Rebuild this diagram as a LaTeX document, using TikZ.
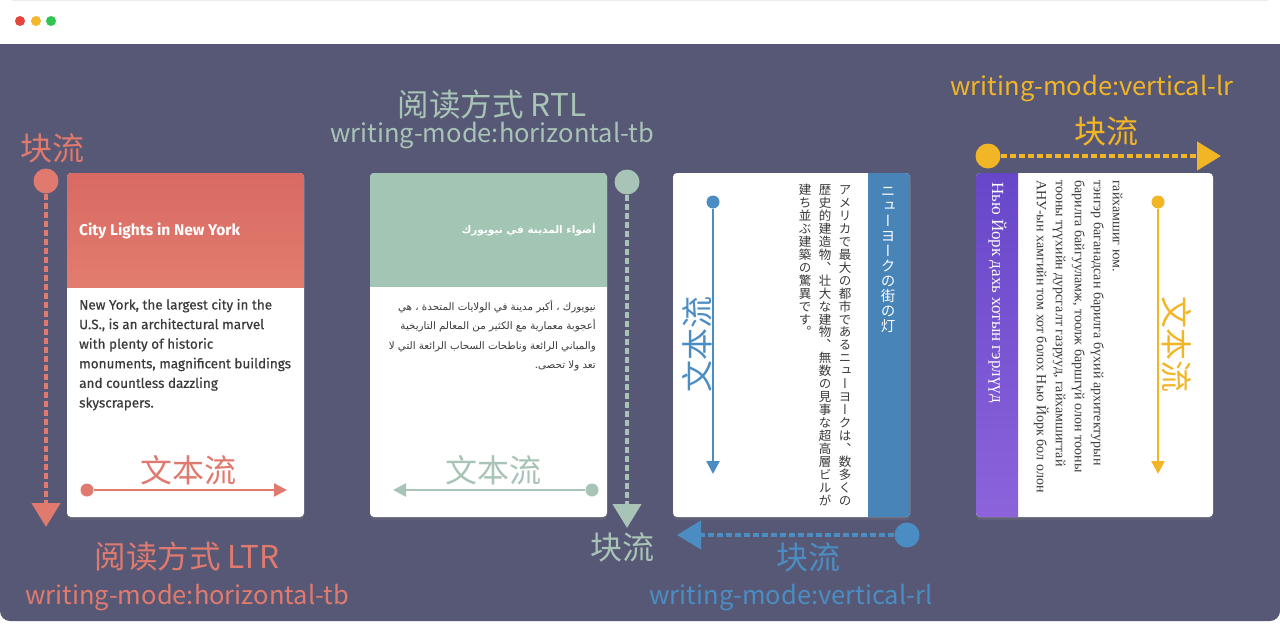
\documentclass[tikz,border=0pt]{standalone}
\usepackage{fontspec}
\usetikzlibrary{arrows.meta,shadows}
\setmainfont{Fira Sans}
\newfontfamily\medfont[FakeBold=0.5]{Fira Sans}
\newfontfamily\cjk{Noto Sans CJK SC}
\newfontfamily\jpv[RawFeature=+vert]{Noto Sans CJK JP}
\newfontfamily\arabicfont[Script=Arabic]{DejaVu Sans}
\newfontfamily\mnfont{Liberation Serif}
\TeXXeTstate=1
\definecolor{bg}{HTML}{575875}
\definecolor{cred}{HTML}{E07A6E}
\definecolor{cgreen}{HTML}{A8C4B6}
\definecolor{cblue}{HTML}{4B8DC3}
\definecolor{camber}{HTML}{F2B526}
\definecolor{hredA}{HTML}{D86963}
\definecolor{hredB}{HTML}{E27D6E}
\definecolor{hgreen}{HTML}{A3C5B3}
\definecolor{hblue}{HTML}{4884B8}
\definecolor{hpurA}{HTML}{6747C9}
\definecolor{hpurB}{HTML}{8C63DB}
\definecolor{txt}{HTML}{3A3A3A}
\definecolor{dotr}{HTML}{E5453A}
\definecolor{doty}{HTML}{F5B72B}
\definecolor{dotg}{HTML}{2EC552}
\ExplSyntaxOn
\NewDocumentCommand\vstack{mm}
 {
  \vbox
   {
    \offinterlineskip
    \tl_map_inline:nn {#2}
     {
      \kern \dimexpr 0.88em + (#1 - 1em)/2 \relax
      \hbox_to_wd:nn {1em} {\hss \smash{##1} \hss}
      \kern \dimexpr (#1 - 1em)/2 + 0.12em \relax
     }
   }
 }
\ExplSyntaxOff
\tikzset{
  card/.style={fill=white, rounded corners=4pt, minimum width=237pt, minimum height=344pt, inner sep=0pt,
    drop shadow={opacity=0.22, shadow xshift=0pt, shadow yshift=-3pt}},
  bdot/.style={circle, fill=#1, minimum size=25pt, inner sep=0pt},
  tdot/.style={circle, fill=#1, minimum size=13pt, inner sep=0pt},
  bflow/.style={draw=#1, line width=4.5pt, dash pattern=on 6pt off 3pt, -{Triangle[length=24pt,width=28pt]}},
  tflow/.style={draw=#1, line width=2.5pt, -{Triangle[length=13pt,width=13pt]}},
  big/.style={font=\cjk\fontsize{32}{34}\selectfont, inner sep=0pt},
  mid/.style={font=\cjk\fontsize{31.5}{33}\selectfont, inner sep=0pt},
  wm/.style={font=\cjk\fontsize{25.5}{28}\selectfont, inner sep=0pt},
  enbody/.style={anchor=base west, text=txt, font=\medfont\fontsize{13.5}{16}\selectfont, inner sep=0pt},
  arbody/.style={anchor=base east, text=txt, font=\arabicfont\fontsize{10.3}{13}\selectfont, inner sep=0pt},
  jpbody/.style={anchor=north, text=txt, font=\jpv\fontsize{12.5}{12.5}\selectfont, inner sep=0pt},
  mnbody/.style={rotate=-90, anchor=west, text=txt, font=\mnfont\fontsize{14}{16}\selectfont, inner sep=0pt, text height=9.5pt, text depth=3pt},
}
\begin{document}
\begin{tikzpicture}[x=1pt,y=-1pt]
\useasboundingbox (0,0) rectangle (1280,627);
\fill[white] (0,0) rectangle (1280,627);
\fill[bg, rounded corners=10pt] (0,20) rectangle (1280,621);
\fill[white] (0,0) rectangle (1280,44);
\draw[black!8, line width=1pt] (12,0.5) -- (1268,0.5);
\fill[dotr] (20,21) circle (5);
\fill[doty] (36,21) circle (5);
\fill[dotg] (51,21) circle (5);

% cards
\node[card] (c1) at (185.5,345) {};
\node[card] (c2) at (488.5,345) {};
\node[card] (c3) at (791.5,345) {};
\node[card] (c4) at (1094.5,345) {};
\begin{scope}
\clip[rounded corners=4pt] (67,173) rectangle (304,517);
\shade[top color=hredA, bottom color=hredB] (67,173) rectangle (304,287);
\end{scope}
\begin{scope}
\clip[rounded corners=4pt] (370,173) rectangle (607,517);
\fill[hgreen] (370,173) rectangle (607,287);
\end{scope}
\begin{scope}
\clip[rounded corners=4pt] (673,173) rectangle (910,517);
\fill[hblue] (868,173) rectangle (910,517);
\end{scope}
\begin{scope}
\clip[rounded corners=4pt] (976,173) rectangle (1213,517);
\shade[top color=hpurA, bottom color=hpurB] (976,173) rectangle (1018,517);
\end{scope}

% card 1 text
\node[anchor=base west, text=white, font=\bfseries\fontsize{15.5}{18}\selectfont, inner sep=0pt] (t1) at (79,235) {City Lights in New York};
\node[enbody] (e1) at (79,309.5) {New York, the largest city in the};
\node[enbody] (e2) at (79,329.1) {U.S., is an architectural marvel};
\node[enbody] (e3) at (79,348.7) {with plenty of historic};
\node[enbody] (e4) at (79,368.3) {monuments, magnificent buildings};
\node[enbody] (e5) at (79,387.9) {and countless dazzling};
\node[enbody] (e6) at (79,407.5) {skyscrapers.};

% card 2 text
\node[anchor=base east, text=white, font=\arabicfont\bfseries\fontsize{10.5}{13}\selectfont, inner sep=0pt] (t2) at (596,233) {\beginR أضواء المدينة في نيويورك\endR};
\node[arbody] (a1) at (596,310) {\beginR نيويورك ، أكبر مدينة في الولايات المتحدة ، هي\endR};
\node[arbody] (a2) at (596,329.5) {\beginR أعجوبة معمارية مع الكثير من المعالم التاريخية\endR};
\node[arbody] (a3) at (596,349) {\beginR والمباني الرائعة وناطحات السحاب الرائعة التي لا\endR};
\node[arbody] (a4) at (596,368.5) {\beginR تعد ولا تحصى.\endR};

% card 3 text
\node[anchor=north, text=white, font=\jpv\fontsize{14.5}{14.5}\selectfont, inner sep=0pt] (t3) at (888,183) {\vstack{15pt}{ニューヨークの街の灯}};
\node[jpbody] (j1) at (845,183) {\vstack{12.96pt}{アメリカで最大の都市であるニューヨークは、数多くの}};
\node[jpbody] (j2) at (825,183) {\vstack{12.96pt}{歴史的建造物、壮大な建物、無数の見事な超高層ビルが}};
\node[jpbody] (j3) at (805,183) {\vstack{12.96pt}{建ち並ぶ建築の驚異です。}};

% card 4 text
\node[rotate=-90, anchor=west, text=white, font=\mnfont\fontsize{17}{19}\selectfont, inner sep=0pt, text height=12pt, text depth=4pt] (t4) at (996,182) {Нью Йорк дахь хотын гэрлүүд};
\node[mnbody] (m1) at (1040,180) {АНУ-ын хамгийн том хот болох Нью Йорк бол олон};
\node[mnbody] (m2) at (1059,180) {тооны түүхийн дурсгалт газрууд, гайхамшигтай};
\node[mnbody] (m3) at (1078,180) {барилга байгууламж, тоолж баршгүй олон тооны};
\node[mnbody] (m4) at (1097,180) {тэнгэр баганадсан барилга бүхий архитектурын};
\node[mnbody] (m5) at (1116,180) {гайхамшиг юм.};

% block flow arrows
\node[bdot=cred] (b1) at (46,181) {};
\coordinate (b1e) at (46,527);
\draw[bflow=cred] (b1) -- (b1e);
\node[bdot=cgreen] (b2) at (627,182) {};
\coordinate (b2e) at (627,528);
\draw[bflow=cgreen] (b2) -- (b2e);
\node[bdot=cblue] (b3) at (907,535) {};
\coordinate (b3e) at (677,535);
\draw[bflow=cblue] (b3) -- (b3e);
\node[bdot=camber] (b4) at (988,156) {};
\coordinate (b4e) at (1221,156);
\draw[bflow=camber] (b4) -- (b4e);

% text flow arrows
\node[tdot=cred] (d1) at (87,490) {};
\coordinate (d1e) at (287,490);
\draw[tflow=cred] (d1) -- (d1e);
\node[tdot=cgreen] (d2) at (592,490) {};
\coordinate (d2e) at (393,490);
\draw[tflow=cgreen] (d2) -- (d2e);
\node[tdot=cblue] (d3) at (713,202) {};
\coordinate (d3e) at (713,474);
\draw[tflow=cblue] (d3) -- (d3e);
\node[tdot=camber] (d4) at (1158,202) {};
\coordinate (d4e) at (1158,474);
\draw[tflow=camber] (d4) -- (d4e);

% labels
\node[big, text=cred] (l1) at (52,148) {块流};
\node[big, text=cred] (f1) at (188,470) {文本流};
\node[mid, text=cred] (r1) at (187,557) {阅读方式 LTR};
\node[wm, text=cred] (w1) at (187,598) {writing-mode:horizontal-tb};

\node[mid, text=cgreen] (r2) at (492,105) {阅读方式 RTL};
\node[wm, text=cgreen] (w2) at (492,136) {writing-mode:horizontal-tb};
\node[big, text=cgreen] (l2) at (622,547) {块流};
\node[big, text=cgreen] (f2) at (493,470) {文本流};

\node[big, text=cblue] (l3) at (808,557) {块流};
\node[wm, text=cblue] (w3) at (791,598) {writing-mode:vertical-rl};
\node[big, text=cblue, rotate=90] (f3) at (697,344) {文本流};

\node[wm, text=camber] (w4) at (1092,89) {writing-mode:vertical-lr};
\node[big, text=camber] (l4) at (1106,131) {块流};
\node[big, text=camber, rotate=-90] (f4) at (1177,344) {文本流};
\end{tikzpicture}
\end{document}
